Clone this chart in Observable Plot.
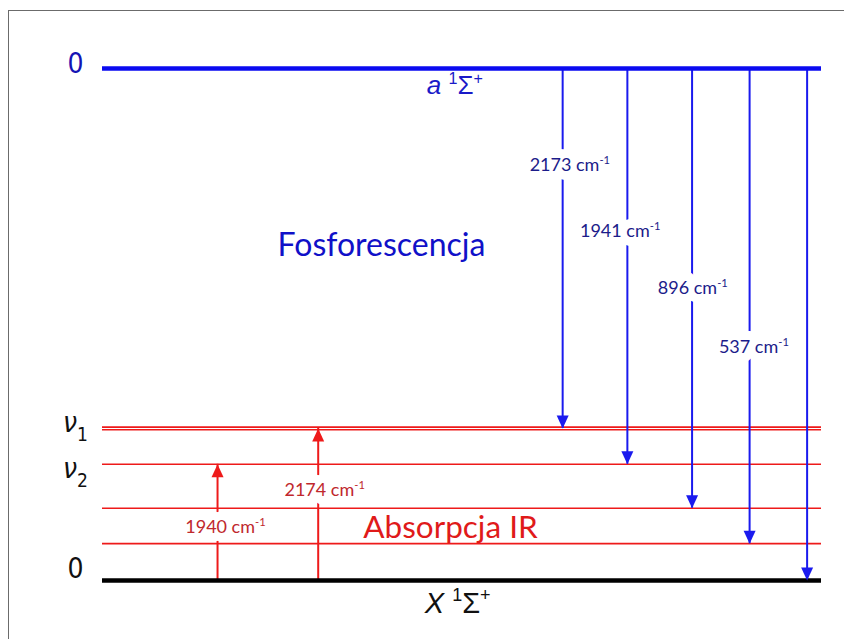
<!DOCTYPE html>
<html><head><meta charset="utf-8">
<script src="https://cdn.jsdelivr.net/npm/d3@7"></script>
<script src="https://cdn.jsdelivr.net/npm/@observablehq/plot@0.6"></script>
<style>
html,body{margin:0;padding:0;background:#fff;}
#wrap{position:relative;width:844px;height:639px;overflow:hidden;}
#frame{position:absolute;left:8px;top:10px;width:900px;height:700px;border-left:1.5px solid #6b6b6b;border-top:1.5px solid #6b6b6b;}
#chart{position:absolute;left:0;top:0;}
</style></head><body>
<div id="wrap"><div id="frame"></div><div id="chart"></div></div>
<script>
// Schematic heights (diagram units): ground state X = 0, a-state origin = 100
const groundLevel = 0;
const upperLevel = 100;
const vibrationalLevels = [7.2, 14.1, 22.7, 29.45, 29.95];

// Phosphorescence (emission) transitions a -> X
const emissionSlots = [64, 73, 82, 90, 98];
const emissionEnds = [29.7, 22.7, 14.1, 7.2, 0];
const emissionLabels = ["2173 cm{sup:-1}", "1941 cm{sup:-1}", "896 cm{sup:-1}", "537 cm{sup:-1}"];
const emissionLabelX = [65, 72, 82.1, 90.6];
const emissionLabelY = [81.1, 68.2, 57.0, 45.5];

// IR absorption transitions
const absorptionSlots = [16, 30];
const absorptionEnds = [22.7, 29.7];
const absorptionLabels = ["1940 cm{sup:-1}", "2174 cm{sup:-1}"];
const absorptionLabelX = [17.1, 30.9];
const absorptionLabelY = [10.35, 17.6];

// Level tick labels on the left
const levelTickLabels = ["0", "{i:ν}{sub:1}", "{i:ν}{sub:2}", "0"];
const levelTickY = [100.9, 30.7, 21.7, 2.15];
const levelTickColors = ["#1414b4", "#111", "#111", "#111"];
const tickX = -3.75;

// State / region titles
const stateLabels = ["{i:a} {sup:1}Σ{sup:+}", "{i:X} {sup:1}Σ{sup:+}"];
const stateLabelX = [49, 49.4];
const stateLabelY = [96.6, -4.5];
const regionLabels = ["Fosforescencja", "Absorpcja IR"];
const regionLabelX = [38.8, 48.4];
const regionLabelY = [65.4, 10.2];

const NARROW = "'Liberation Sans Narrow','Arial Narrow','DejaVu Sans Condensed','Liberation Sans',sans-serif";
const ARIAL = "'Liberation Sans',Arial,sans-serif";
const CAL = "Lato,'Open Sans',sans-serif";
const BLUE = "#0b0bf0", RED = "#ee1a1a";

const emissions = emissionSlots.map((x, i) => ({x, end: emissionEnds[i]}));
const emissionText = emissionLabels.map((t, i) => ({t, x: emissionLabelX[i], y: emissionLabelY[i]}));
const absorptions = absorptionSlots.map((x, i) => ({x, end: absorptionEnds[i]}));
const absorptionText = absorptionLabels.map((t, i) => ({t, x: absorptionLabelX[i], y: absorptionLabelY[i]}));
const ticks = levelTickLabels.map((t, i) => ({t, y: levelTickY[i], c: levelTickColors[i]}));

const headDown = {draw(ctx) { ctx.moveTo(0, 0); ctx.lineTo(-6, -13); ctx.lineTo(6, -13); ctx.closePath(); }};
const headUp = {draw(ctx) { ctx.moveTo(0, 0); ctx.lineTo(-6, 13); ctx.lineTo(6, 13); ctx.closePath(); }};

const labelOpts = {x: "x", y: "y", text: "t", fontFamily: CAL, fontSize: 18, lineAnchor: "middle"};

const chart = Plot.plot({
  width: 844, height: 639,
  marginLeft: 102, marginRight: 23, marginTop: 68, marginBottom: 59,
  x: {domain: [0, 100], axis: null},
  y: {domain: [0, 100], axis: null},
  color: {type: "identity"},
  style: {background: "transparent", overflow: "visible"},
  marks: [
    // IR absorption shafts and labels (white backing first)
    Plot.ruleX(absorptions, {x: "x", y1: groundLevel, y2: "end", stroke: RED, strokeWidth: 2}),
    Plot.text(absorptionText, {...labelOpts, fill: "white", stroke: "white", strokeWidth: 17}),
    Plot.text(absorptionText, {...labelOpts, fill: "#c0282d"}),
    // vibrational levels
    Plot.ruleY(vibrationalLevels, {stroke: RED, strokeWidth: 1.6}),
    // emission shafts and labels
    Plot.ruleX(emissions, {x: "x", y1: upperLevel, y2: "end", stroke: "#1a1aee", strokeWidth: 2}),
    Plot.text(emissionText, {...labelOpts, fill: "white", stroke: "white", strokeWidth: 18}),
    Plot.text(emissionText, {...labelOpts, fill: "#1c1c8a"}),
    // electronic state origins
    Plot.ruleY([upperLevel], {stroke: BLUE, strokeWidth: 4.6}),
    Plot.ruleY([groundLevel], {stroke: "#000", strokeWidth: 4.6}),
    // arrowheads
    Plot.dot(emissions, {x: "x", y: "end", symbol: headDown, fill: "#1a1aee"}),
    Plot.dot(absorptions, {x: "x", y: "end", symbol: headUp, fill: RED}),
    // tick labels
    Plot.text(ticks, {x: tickX, y: "y", text: "t", fill: "c", fontFamily: NARROW, fontSize: 28, lineAnchor: "middle"}),
    // state labels
    Plot.text([stateLabels[0]], {x: stateLabelX[0], y: stateLabelY[0], text: d => d, fill: "#1a1ac8", fontFamily: ARIAL, fontSize: 26, lineAnchor: "middle"}),
    Plot.text([stateLabels[1]], {x: stateLabelX[1], y: stateLabelY[1], text: d => d, fill: "#111", fontFamily: ARIAL, fontSize: 29, lineAnchor: "middle"}),
    // region labels
    Plot.text([regionLabels[0]], {x: regionLabelX[0], y: regionLabelY[0], text: d => d, fill: "#1010c8", fontFamily: CAL, fontSize: 32, lineAnchor: "middle"}),
    Plot.text([regionLabels[1]], {x: regionLabelX[1], y: regionLabelY[1], text: d => d, fill: "#e01a1a", fontFamily: CAL, fontSize: 31.5, lineAnchor: "middle"})
  ]
});

document.getElementById("chart").appendChild(chart);

function richText(svg) {
  d3.select(svg).selectAll("text").each(function () {
    const raw = this.textContent;
    if (!raw.includes("{")) return;
    const fs = parseFloat(getComputedStyle(this).fontSize) || 16;
    const el = d3.select(this);
    el.text(null);
    const re = /\{(i|sup|sub):([^}]*)\}/g;
    let last = 0, m, shift = 0;
    const add = (txt, kind) => {
      const ts = el.append("tspan").text(txt);
      let target = 0;
      if (kind === "sup") { ts.attr("font-size", fs * 0.62); target = -0.4 * fs; }
      if (kind === "sub") { ts.attr("font-size", fs * 0.68); target = 0.3 * fs; }
      if (kind === "i") ts.attr("font-style", "italic");
      if (target !== shift) { ts.attr("dy", target - shift); shift = target; }
    };
    while ((m = re.exec(raw))) {
      if (m.index > last) add(raw.slice(last, m.index), null);
      add(m[2], m[1]);
      last = re.lastIndex;
    }
    if (last < raw.length) add(raw.slice(last), null);
  });
}
richText(chart);
</script>
</body></html>
